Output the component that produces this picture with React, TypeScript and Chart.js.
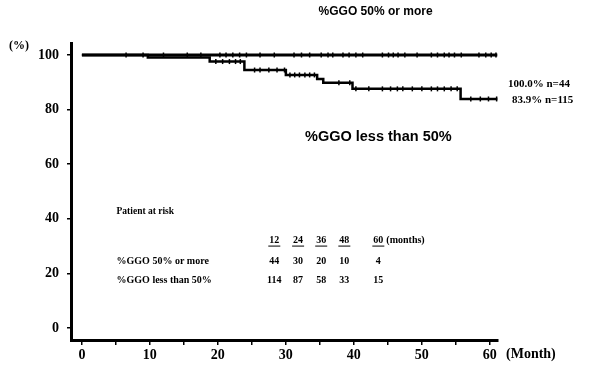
import React, { useEffect, useRef } from "react";
import { Chart, registerables } from "chart.js";

Chart.register(...registerables);

// ---- data ----
const highTimes = [0, 61.1];
const highSurv = [100, 100];
const highCensor = [6.5, 9.0, 12.0, 15.5, 17.5, 20.3, 21.2, 22.2, 23.2, 24.2, 26.2, 28.3, 31.2, 32.3, 33.5, 35.2, 36.2, 36.9, 38.4, 39.3, 40.3, 41.3, 44.2, 45.1, 45.8, 46.5, 47.5, 49.3, 51.4, 52.3, 53.3, 54.0, 54.8, 55.8, 58.4, 59.4, 60.2, 60.9];

const lowTimes = [0, 9.7, 18.8, 23.9, 30.0, 34.6, 35.5, 39.8, 55.7, 61.1];
const lowSurv = [100, 99.1, 97.6, 94.5, 92.7, 91.2, 89.8, 87.6, 83.9, 83.9];
const lowCensor = [19.7, 20.7, 21.7, 22.6, 23.3, 25.4, 26.2, 27.5, 28.7, 29.8, 30.6, 31.3, 32.0, 32.8, 33.5, 34.2, 37.8, 39.4, 40.3, 42.2, 44.2, 45.4, 46.4, 47.2, 48.6, 50.0, 51.4, 52.3, 53.3, 54.3, 55.2, 57.2, 58.6, 59.8, 61.0];

const xTickValues = [0, 5, 10, 15, 20, 25, 30, 35, 40, 45, 50, 55, 60];
const xLabelValues = [0, 10, 20, 30, 40, 50, 60];
const yTickValues = [0, 20, 40, 60, 80, 100];

const riskMonths = ["12", "24", "36", "48", "60"];
const riskHigh = ["44", "30", "20", "10", "4"];
const riskLow = ["114", "87", "58", "33", "15"];
const riskColumns = [28.3, 31.8, 35.2, 38.6, 43.6];

const titleText = "%GGO 50% or more";
const lowLabel = "%GGO less than 50%";
const highEnd = "100.0% n=44";
const lowEnd = "83.9% n=115";

function survAt(times: number[], surv: number[], t: number) {
  let v = surv[0];
  for (let i = 0; i < times.length; i++) if (times[i] <= t) v = surv[i];
  return v;
}

const textPlugin = {
  id: "texts",
  afterDraw(chart: any) {
    const ctx = chart.ctx;
    const xs = chart.scales.x;
    const ys = chart.scales.y;
    const X = (v: number) => xs.getPixelForValue(v);
    const Y = (v: number) => ys.getPixelForValue(v);
    ctx.save();
    ctx.fillStyle = "#000";
    ctx.strokeStyle = "#000";
    ctx.textBaseline = "middle";

    ctx.font = 'bold 12px "Liberation Sans"';
    ctx.textAlign = "center";
    ctx.fillText(titleText, X(43.2), Y(115.8));

    ctx.font = 'bold 14.5px "Liberation Sans"';
    ctx.fillText(lowLabel, X(43.6), Y(70));

    ctx.font = 'bold 11px "Liberation Serif"';
    ctx.textAlign = "left";
    ctx.fillText(highEnd, X(61.2) + 10, Y(89.4));
    ctx.fillText(lowEnd, X(61.2) + 14, Y(83.5));

    // axis captions
    ctx.font = 'bold 12px "Liberation Serif"';
    ctx.fillText("(%)", 9, Y(103.5));
    ctx.font = 'bold 14px "Liberation Serif"';
    ctx.fillText("(Month)", X(61.2) + 8, Y(-9.5));

    // risk table
    ctx.font = 'bold 9.5px "Liberation Serif"';
    ctx.fillText("Patient at risk", X(5.1), Y(42.5));
    ctx.font = 'bold 10px "Liberation Serif"';
    ctx.textAlign = "center";
    riskMonths.forEach((m, i) => {
      const cx = X(riskColumns[i]);
      ctx.fillText(m, cx, Y(32.2));
      const w = ctx.measureText(m).width;
      ctx.lineWidth = 1;
      ctx.beginPath();
      ctx.moveTo(cx - w / 2 - 1, Y(32.2) + 6);
      ctx.lineTo(cx + w / 2 + 1, Y(32.2) + 6);
      ctx.stroke();
    });
    ctx.textAlign = "left";
    ctx.fillText("(months)", X(riskColumns[4]) + 8, Y(32.2));
    ctx.fillText("%GGO 50% or more", X(5.1), Y(24.5));
    ctx.fillText("%GGO less than 50%", X(5.1), Y(17.6));
    ctx.textAlign = "center";
    riskHigh.forEach((v, i) => ctx.fillText(v, X(riskColumns[i]), Y(24.5)));
    riskLow.forEach((v, i) => ctx.fillText(v, X(riskColumns[i]), Y(17.6)));
    ctx.restore();
  },
};

export default function App() {
  const ref = useRef<HTMLCanvasElement | null>(null);
  useEffect(() => {
    if (!ref.current) return;
    const chart = new Chart(ref.current, {
      type: "line",
      data: {
        datasets: [
          {
            label: "high",
            data: highTimes.map((t, i) => ({ x: t, y: highSurv[i] })),
            stepped: "before",
            borderColor: "#000",
            borderWidth: 2.8,
            pointRadius: 0,
            fill: false,
          } as any,
          {
            label: "low",
            data: lowTimes.map((t, i) => ({ x: t, y: lowSurv[i] })),
            stepped: "before",
            borderColor: "#000",
            borderWidth: 2.5,
            pointRadius: 0,
            fill: false,
          } as any,
          {
            label: "highCensor",
            type: "scatter",
            data: highCensor.map((t) => ({ x: t, y: survAt(highTimes, highSurv, t) })),
            showLine: false,
            pointStyle: "line",
            rotation: 90,
            pointRadius: 2.5,
            borderWidth: 1.5,
            borderColor: "#000",
            backgroundColor: "#000",
          } as any,
          {
            label: "lowCensor",
            type: "scatter",
            data: lowCensor.map((t) => ({ x: t, y: survAt(lowTimes, lowSurv, t) })),
            showLine: false,
            pointStyle: "line",
            rotation: 90,
            pointRadius: 2.5,
            borderWidth: 1.5,
            borderColor: "#000",
            backgroundColor: "#000",
          } as any,
        ],
      },
      options: {
        animation: false,
        responsive: false,
        layout: { padding: { left: 0, top: 43, right: 117, bottom: 0 } },
        plugins: { legend: { display: false }, tooltip: { enabled: false } },
        scales: {
          x: {
            type: "linear",
            min: -1.6,
            max: 61.2,
            afterBuildTicks: (s: any) => {
              s.ticks = xTickValues.map((v) => ({ value: v }));
            },
            afterFit: (s: any) => {
              s.height = 36;
            },
            ticks: {
              autoSkip: false,
              maxRotation: 0,
              padding: 2,
              color: "#000",
              font: { family: "Liberation Serif", weight: "bold", size: 14 },
              callback: (v: any) => (xLabelValues.includes(Number(v)) ? String(v) : ""),
            },
            grid: { drawOnChartArea: false, tickLength: 5, color: "#000", lineWidth: 1.5 },
            border: { display: true, color: "#000", width: 3 },
          },
          y: {
            type: "linear",
            min: -4.4,
            max: 104.4,
            afterBuildTicks: (s: any) => {
              s.ticks = yTickValues.map((v) => ({ value: v }));
            },
            afterFit: (s: any) => {
              s.width = 71;
            },
            ticks: {
              padding: 8,
              color: "#000",
              font: { family: "Liberation Serif", weight: "bold", size: 14 },
            },
            grid: { drawOnChartArea: false, tickLength: 4, color: "#000", lineWidth: 1.5 },
            border: { display: true, color: "#000", width: 3 },
          },
        },
      },
      plugins: [textPlugin],
    });
    return () => chart.destroy();
  }, []);
  return (
    <div style={{ position: "fixed", left: 0, top: 0, width: 615, height: 376, background: "#fff" }}>
      <canvas ref={ref} width={615} height={376} style={{ display: "block" }} />
    </div>
  );
}
